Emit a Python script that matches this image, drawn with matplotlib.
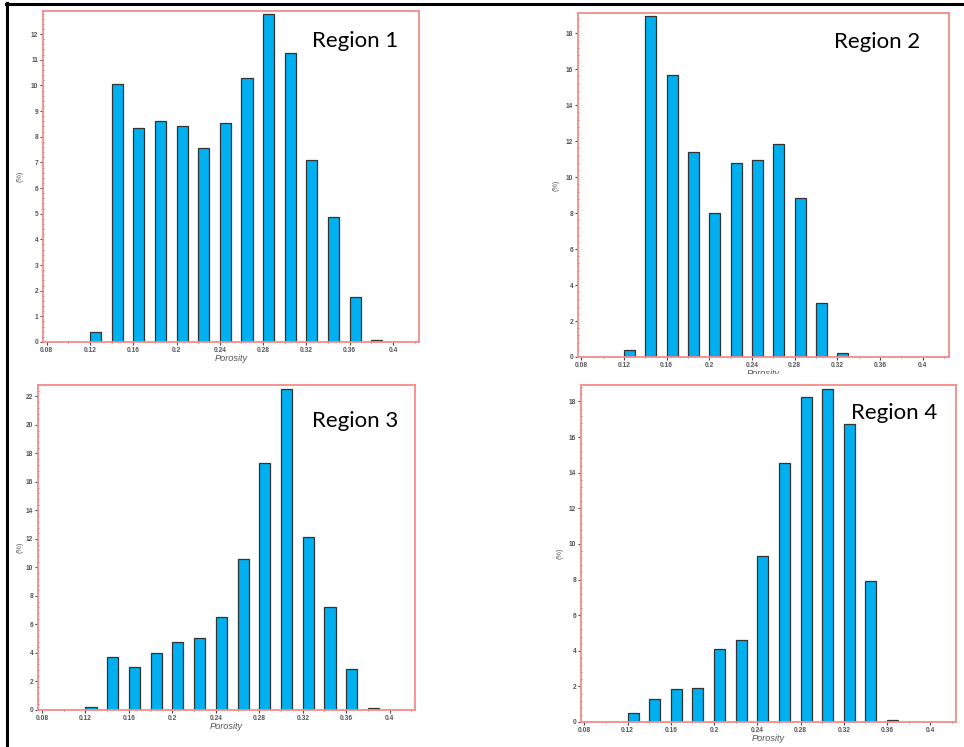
import matplotlib
matplotlib.use("Agg")
import matplotlib.pyplot as plt
from matplotlib.lines import Line2D
from matplotlib.patches import Rectangle
from matplotlib.ticker import MultipleLocator, AutoMinorLocator

# ---- data (percent of samples per porosity bin; bins are 0.02 wide, starting at 0.12) ----
bins_r1 = [0.12, 0.14, 0.16, 0.18, 0.20, 0.22, 0.24, 0.26, 0.28, 0.30, 0.32, 0.34, 0.36, 0.38]
pct_r1 = [0.38, 10.05, 8.35, 8.60, 8.43, 7.58, 8.52, 10.30, 12.77, 11.26, 7.08, 4.87, 1.74, 0.08]

bins_r2 = [0.12, 0.14, 0.16, 0.18, 0.20, 0.22, 0.24, 0.26, 0.28, 0.30, 0.32]
pct_r2 = [0.37, 18.95, 15.70, 11.40, 8.01, 10.81, 10.98, 11.83, 8.86, 3.00, 0.20]

bins_r3 = [0.12, 0.14, 0.16, 0.18, 0.20, 0.22, 0.24, 0.26, 0.28, 0.30, 0.32, 0.34, 0.36, 0.38]
pct_r3 = [0.23, 3.69, 2.99, 4.02, 4.77, 5.05, 6.55, 10.57, 17.30, 22.54, 12.11, 7.20, 2.90, 0.12]

bins_r4 = [0.12, 0.14, 0.16, 0.18, 0.20, 0.22, 0.24, 0.26, 0.28, 0.30, 0.32, 0.34, 0.36]
pct_r4 = [0.53, 1.31, 1.86, 1.91, 4.11, 4.63, 9.34, 14.55, 18.23, 18.71, 16.73, 7.93, 0.13]

titles = ["Region 1", "Region 2", "Region 3", "Region 4"]
xticks = [0.08, 0.12, 0.16, 0.2, 0.24, 0.28, 0.32, 0.36, 0.4]
xtick_labels = ["0.08", "0.12", "0.16", "0.2", "0.24", "0.28", "0.32", "0.36", "0.4"]

W, H = 964, 747
fig = plt.figure(figsize=(W / 100, H / 100), dpi=100)
fig.patch.set_facecolor("white")

def px_box(x0, y0, x1, y1):
    return [x0 / W, 1 - y1 / H, (x1 - x0) / W, (y1 - y0) / H]

panels = [
    dict(box=(43, 11, 419, 342), bins=bins_r1, pct=pct_r1, ymax=12.9, ystep=1,
         xlim=(0.0766, 0.424), title_xy=(312, 41), ylab_x=23),
    dict(box=(578, 13, 949, 357), bins=bins_r2, pct=pct_r2, ymax=19.13, ystep=2,
         xlim=(0.0769, 0.4246), title_xy=(834, 42), ylab_x=560),
    dict(box=(38, 385, 415, 710), bins=bins_r3, pct=pct_r3, ymax=22.8, ystep=2,
         xlim=(0.0763, 0.4233), title_xy=(312, 421), ylab_x=23),
    dict(box=(581, 385, 956, 722), bins=bins_r4, pct=pct_r4, ymax=18.92, ystep=2,
         xlim=(0.0769, 0.4238), title_xy=(851, 413), ylab_x=563),
]

spine_col = "#f78a8a"
bar_col = "#00b0f0"
lab_col = "#555555"

for p, title in zip(panels, titles):
    ax = fig.add_axes(px_box(*p["box"]))
    ax.bar(p["bins"], p["pct"], width=0.0102, align="edge", color=bar_col,
           edgecolor="#333333", linewidth=0.9, zorder=2)
    ax.set_xlim(*p["xlim"])
    ax.set_ylim(0, p["ymax"])
    ax.set_xticks(xticks)
    ax.set_xticklabels(xtick_labels)
    ax.xaxis.set_minor_locator(MultipleLocator(0.02))
    ax.yaxis.set_major_locator(MultipleLocator(p["ystep"]))
    ax.yaxis.set_minor_locator(AutoMinorLocator(5))
    for s in ax.spines.values():
        s.set_color(spine_col)
        s.set_linewidth(1.3)
    ax.tick_params(axis="both", which="major", labelsize=4.8, labelcolor=lab_col,
                   color="#444444", length=2.2, width=0.8, pad=1.2, direction="out")
    ax.tick_params(axis="both", which="minor", color="#666666", length=1.2, width=0.6,
                   direction="inout")
    for lab in ax.get_xticklabels() + ax.get_yticklabels():
        lab.set_family("Liberation Sans")
        lab.set_fontweight("bold")
    ax.set_xlabel("Porosity", fontsize=6.6, style="italic", color=lab_col,
                  family="Liberation Sans", labelpad=0)
    ax.set_ylabel("(%)", fontsize=5.2, color=lab_col, family="Liberation Sans")
    ax.yaxis.set_label_coords((p["ylab_x"] - p["box"][0]) / (p["box"][2] - p["box"][0]), 0.5)
    tx, ty = p["title_xy"]
    fig.text(tx / W, 1 - ty / H, title, fontsize=16, family="Lato", color="black",
             ha="left", va="center", zorder=10)

# the lower-right picture covers the bottom half of the upper-right x label
fig.add_artist(Rectangle((560 / W, 1 - 384 / H), 404 / W, 10.5 / H, transform=fig.transFigure,
                         facecolor="white", edgecolor="none", zorder=5))

# black frame lines (top and left)
fig.add_artist(Line2D([6 / W, 1], [1 - 4 / H, 1 - 4 / H], transform=fig.transFigure,
                      color="black", linewidth=2.2, zorder=20))
fig.add_artist(Line2D([7 / W, 7 / W], [0, 1 - 3 / H], transform=fig.transFigure,
                      color="black", linewidth=2.2, zorder=20))

fig.savefig("out.png", dpi=100, facecolor="white")
